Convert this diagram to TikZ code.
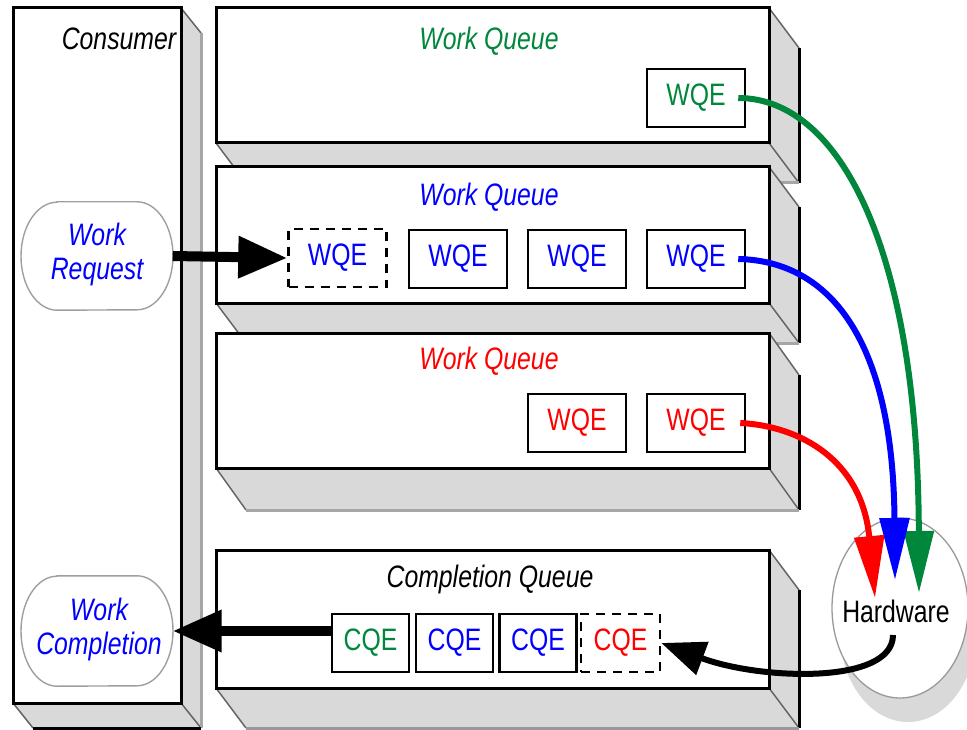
\documentclass[tikz,border=0pt]{standalone}
\usepackage{fontspec}
\setmainfont{Liberation Sans}
\usetikzlibrary{arrows.meta,shapes.geometric}

\definecolor{qgreen}{RGB}{0,135,60}
\definecolor{qblue}{RGB}{0,0,255}
\definecolor{qred}{RGB}{255,0,0}
\definecolor{sidegray}{RGB}{217,217,217}

% horizontally condensed text
\newcommand\sq[1]{\scalebox{0.8}[1]{#1}}

% 3D slab: front face (#1,#2)-(#3,#4), depth offset (#5,-#6),
% colour of the far right edge #7 and of the far bottom edge #8
\newcommand\slab[8]{%
  \fill[sidegray] (#3,#2) -- (#3+#5,#2-#6) -- (#3+#5,#4-#6) -- (#1+#5,#4-#6)
     -- (#1,#4) -- (#3,#4) -- cycle;
  \draw[depthedge] (#3,#2) -- (#3+#5,#2-#6);
  \draw[depthedge] (#1,#4) -- (#1+#5,#4-#6);
  \draw[depthedge] (#3,#4) -- (#3+#5,#4-#6);
  \draw[line width=3pt,#7] (#3+#5,#2-#6) -- (#3+#5,#4-#6);
  \draw[line width=3pt,#8] (#1+#5,#4-#6) -- (#3+#5,#4-#6);
  \draw[line width=3pt,fill=white] (#1,#2) rectangle (#3,#4);
}

% oval with flat top and bottom, drawn round a named node (#1), half height #2
\newcommand\flatoval[2]{%
  \draw[line width=1.4pt,draw=gray!75,fill=white]
    ([xshift=-40pt]#1.north) -- ([xshift=40pt]#1.north)
    arc[start angle=90,end angle=-90,x radius=36pt,y radius=#2]
    -- ([xshift=-40pt]#1.south)
    arc[start angle=270,end angle=90,x radius=36pt,y radius=#2] -- cycle;
}

\tikzset{
  depthedge/.style={line width=1.5pt,draw=gray!80!black},
  txt/.style={font=\fontsize{31}{34}\selectfont,inner sep=0pt},
  ttl/.style={txt,font=\fontsize{31}{34}\selectfont\itshape,anchor=base},
  entry/.style={draw,line width=2.5pt,minimum height=58pt,inner sep=0pt,
    font=\fontsize{31}{34}\selectfont},
  wqe/.style={entry,minimum width=98pt},
  cqe/.style={entry,minimum width=77pt},
  pending/.style={dash pattern=on 9pt off 7pt},
  fat/.style={line width=10pt,-{Triangle[length=49pt,width=40pt]}},
  flow/.style={line width=6pt,-{Triangle[length=62pt,width=29pt]}},
  ovalbox/.style={minimum width=151pt,minimum height=108pt,inner sep=0pt,
    align=center,font=\fontsize{31}{34}\selectfont\itshape,text=qblue},
}

\begin{document}
\begin{tikzpicture}[x=1pt,y=1pt]
\useasboundingbox (0,0) rectangle (967,-730);

% consumer column and the four queues
\slab{13}{-8}{181}{-703}{20}{25}{draw=gray!70}{draw=black}
\slab{216}{-8}{769}{-143}{30}{40}{draw=black}{draw=gray!70}
\slab{216}{-167}{769}{-303}{30}{40}{draw=black}{draw=gray!70}
\slab{216}{-333}{769}{-468}{30}{42}{draw=black}{draw=gray!70}
\slab{216}{-550}{769}{-688}{30}{40}{draw=black}{draw=gray!80}

% titles
\node[ttl] (tcons) at (119,-50) {\sq{Consumer}};
\node[ttl,text=qgreen] (tq1) at (489,-50) {\sq{Work Queue}};
\node[ttl,text=qblue] (tq2) at (489,-206) {\sq{Work Queue}};
\node[ttl,text=qred] (tq3) at (489,-369) {\sq{Work Queue}};
\node[ttl] (tcq) at (490,-587) {\sq{Completion Queue}};

% consumer side
\node[ovalbox] (wr) at (97,-256) {};
\flatoval{wr}{54pt}
\node[ovalbox] (wrt) at (97,-254) {\sq{Work}\\\sq{Request}};
\node[ovalbox,minimum height=110pt] (wc) at (97,-631) {};
\flatoval{wc}{55pt}
\node[ovalbox] (wct) at (99,-629) {\sq{Work}\\\sq{Completion}};

% work queue entries
\node[wqe,text=qgreen] (w1) at (696,-98) {\sq{WQE}};
\node[wqe,pending,text=qblue] (w2a) at (337.5,-258) {\sq{WQE}};
\node[wqe,text=qblue] (w2b) at (458,-259) {\sq{WQE}};
\node[wqe,text=qblue] (w2c) at (577,-259) {\sq{WQE}};
\node[wqe,text=qblue] (w2d) at (696,-259) {\sq{WQE}};
\node[wqe,text=qred] (w3a) at (577,-423) {\sq{WQE}};
\node[wqe,text=qred] (w3b) at (696,-423) {\sq{WQE}};

% completion queue entries
\node[cqe,text=qgreen] (c1) at (370.5,-643) {\sq{CQE}};
\node[cqe,text=qblue] (c2) at (454.5,-643) {\sq{CQE}};
\node[cqe,text=qblue] (c3) at (538,-643) {\sq{CQE}};
\node[cqe,pending,text=qred,minimum width=79pt] (c4) at (620.5,-643) {\sq{CQE}};

% hardware
\fill[gray!30] (908,-632) ellipse[x radius=68pt,y radius=90pt];
\node[ellipse,draw=gray!80,line width=1.3pt,fill=white,minimum width=136pt,
  minimum height=180pt,inner sep=0pt] (hw) at (900,-608) {};
\node[txt] (hwt) at (896,-611) {\sq{Hardware}};
\coordinate (tipG) at (919,-593);
\coordinate (tipB) at (895,-580);
\coordinate (tipR) at (875,-598);
\coordinate (hwout) at (893,-635);

% posting and completion
\draw[fat] (wr.east) -- (w2a.west);
\draw[fat] (wc.east -| c1.west) -- (wc.east);

% queues processed by the hardware
\draw[flow,qgreen] ([xshift=-8pt]w1.east) .. controls (840,-98) and (918,-250) .. (tipG);
\draw[flow,qblue] ([xshift=-8pt]w2d.east) .. controls (830,-261) and (893,-340) .. (tipB);
\draw[flow,qred] ([xshift=-6pt]w3b.east) .. controls (800,-426) and (862,-460) .. (tipR);
\draw[line width=6pt,-{Triangle[length=44pt,width=34pt]}]
  (hwout) .. controls (893,-685) and (760,-680) .. (c4.east);
\end{tikzpicture}
\end{document}
